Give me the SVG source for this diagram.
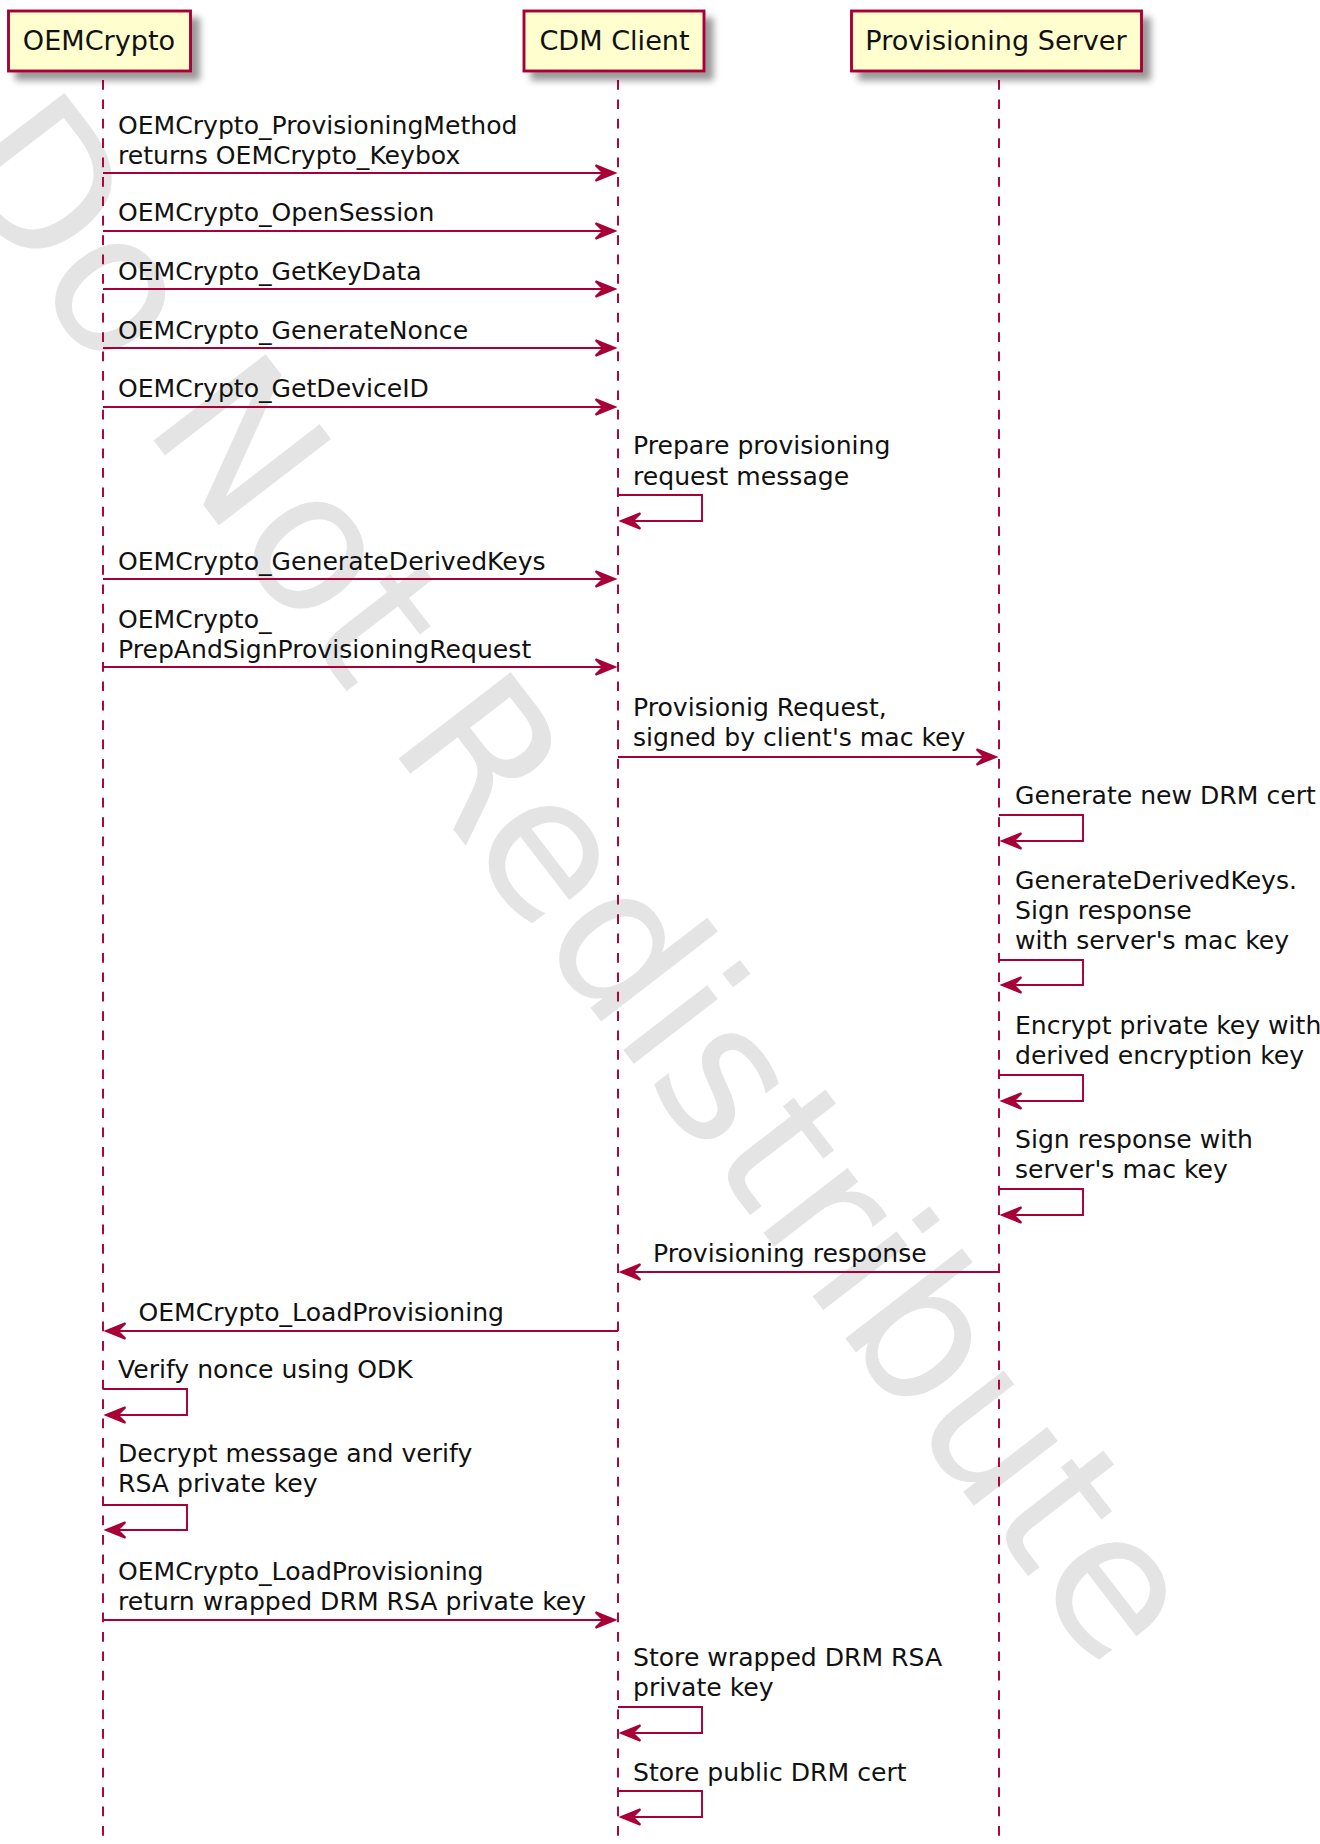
<svg xmlns="http://www.w3.org/2000/svg" width="1320" height="1844" viewBox="0 0 1320 1844">
<style>
.wm{font-family:"DejaVu Sans","Liberation Sans",sans-serif;font-size:194px;fill:#e4e4e4}
.box{fill:#FEFECE;stroke:#A80036;stroke-width:2.9}
.pt{font-family:"DejaVu Sans","Liberation Sans",sans-serif;font-size:27.1px;fill:#111;text-anchor:middle}
.life{stroke:#A80036;stroke-width:1.94;stroke-dasharray:9.7 9.7;fill:none}
.msg{stroke:#A80036;stroke-width:1.94;fill:none;marker-end:url(#ah)}
.t{font-family:"DejaVu Sans","Liberation Sans",sans-serif;font-size:25.1px;fill:#111}
</style>
<defs>
<filter id="sh" x="-20%" y="-40%" width="150%" height="200%">
<feGaussianBlur in="SourceAlpha" stdDeviation="3.9" result="b"/>
<feColorMatrix in="b" type="matrix" values="0 0 0 0 0  0 0 0 0 0  0 0 0 0 0  0 0 0 .4 0" result="b2"/>
<feOffset in="b2" dx="7.75" dy="7.75" result="b3"/>
<feBlend in="SourceGraphic" in2="b3" mode="normal"/>
</filter>
<marker id="ah" markerUnits="userSpaceOnUse" viewBox="-26 -13 30 26" markerWidth="30" markerHeight="26" refX="0" refY="0" orient="auto" overflow="visible">
<polygon points="-19.4,-7.75 0,0 -19.4,7.75 -11.6,0" fill="#A80036" stroke="#A80036" stroke-width="1.94"/>
</marker>
</defs>
<rect width="1320" height="1844" fill="#fff"/>
<text class="wm" transform="translate(-59.2,164.2) rotate(52.4)">Do Not Redistribute</text>

<g id="lifelines">
<line class="life" x1="103" y1="80" x2="103" y2="1844"/>
<line class="life" x1="618" y1="80" x2="618" y2="1844"/>
<line class="life" x1="999" y1="80" x2="999" y2="1844"/>
</g>

<g id="p-oemcrypto">
<rect class="box" x="8.5" y="11" width="182" height="60" filter="url(#sh)"/>
<text class="pt" x="99" y="49.8">OEMCrypto</text>
</g>
<g id="p-cdm">
<rect class="box" x="524" y="11" width="180" height="60" filter="url(#sh)"/>
<text class="pt" x="614.5" y="49.8">CDM Client</text>
</g>
<g id="p-server">
<rect class="box" x="851.5" y="11" width="290" height="60" filter="url(#sh)"/>
<text class="pt" x="996" y="49.8">Provisioning Server</text>
</g>

<g id="connectors">
<line class="msg" x1="103" y1="173" x2="615" y2="173"/>
<line class="msg" x1="103" y1="231" x2="615" y2="231"/>
<line class="msg" x1="103" y1="289" x2="615" y2="289"/>
<line class="msg" x1="103" y1="348" x2="615" y2="348"/>
<line class="msg" x1="103" y1="407" x2="615" y2="407"/>
<path class="msg" d="M618,495 H702 V521 H621"/>
<line class="msg" x1="103" y1="579" x2="615" y2="579"/>
<line class="msg" x1="103" y1="667" x2="615" y2="667"/>
<line class="msg" x1="618" y1="757" x2="996" y2="757"/>
<path class="msg" d="M999,815 H1083 V841 H1002"/>
<path class="msg" d="M999,960 H1083 V985 H1002"/>
<path class="msg" d="M999,1075 H1083 V1101 H1002"/>
<path class="msg" d="M999,1189 H1083 V1215 H1002"/>
<line class="msg" x1="999" y1="1272" x2="621" y2="1272"/>
<line class="msg" x1="618" y1="1331" x2="106" y2="1331"/>
<path class="msg" d="M103,1389 H187 V1415 H106"/>
<path class="msg" d="M103,1505 H187 V1530 H106"/>
<line class="msg" x1="103" y1="1620" x2="615" y2="1620"/>
<path class="msg" d="M618,1707 H702 V1733 H621"/>
<path class="msg" d="M618,1791 H702 V1817 H621"/>
</g>

<g id="labels">
<text class="t" x="118" y="133.5">OEMCrypto_ProvisioningMethod</text>
<text class="t" x="118" y="163.5">returns OEMCrypto_Keybox</text>
<text class="t" x="118" y="221">OEMCrypto_OpenSession</text>
<text class="t" x="118" y="279.5">OEMCrypto_GetKeyData</text>
<text class="t" x="118" y="338.5">OEMCrypto_GenerateNonce</text>
<text class="t" x="118" y="397">OEMCrypto_GetDeviceID</text>
<text class="t" x="633" y="454">Prepare provisioning</text>
<text class="t" x="633" y="484.5">request message</text>
<text class="t" x="118" y="569.5">OEMCrypto_GenerateDerivedKeys</text>
<text class="t" x="118" y="627.5">OEMCrypto_</text>
<text class="t" x="118" y="657.5">PrepAndSignProvisioningRequest</text>
<text class="t" x="633" y="716">Provisionig Request,</text>
<text class="t" x="633" y="746">signed by client's mac key</text>
<text class="t" x="1015" y="803.5">Generate new DRM cert</text>
<text class="t" x="1015" y="889">GenerateDerivedKeys.</text>
<text class="t" x="1015" y="919">Sign response</text>
<text class="t" x="1015" y="949">with server's mac key</text>
<text class="t" x="1015" y="1033.5">Encrypt private key with</text>
<text class="t" x="1015" y="1063.5">derived encryption key</text>
<text class="t" x="1015" y="1147.5">Sign response with</text>
<text class="t" x="1015" y="1177.5">server's mac key</text>
<text class="t" x="653" y="1262">Provisioning response</text>
<text class="t" x="138.5" y="1321">OEMCrypto_LoadProvisioning</text>
<text class="t" x="118" y="1378">Verify nonce using ODK</text>
<text class="t" x="118" y="1462">Decrypt message and verify</text>
<text class="t" x="118" y="1492">RSA private key</text>
<text class="t" x="118" y="1579.5">OEMCrypto_LoadProvisioning</text>
<text class="t" x="118" y="1609.5">return wrapped DRM RSA private key</text>
<text class="t" x="633" y="1665.5">Store wrapped DRM RSA</text>
<text class="t" x="633" y="1695.5">private key</text>
<text class="t" x="633" y="1780.5">Store public DRM cert</text>
</g>
</svg>
